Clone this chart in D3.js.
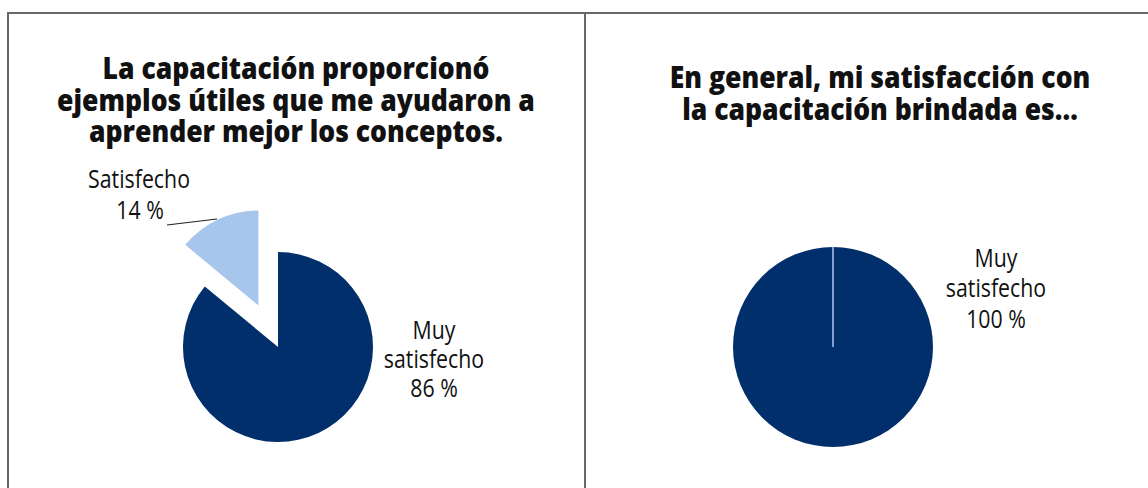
<!DOCTYPE html>
<html>
<head>
<meta charset="utf-8">
<script src="https://cdn.jsdelivr.net/npm/d3@7"></script>
<style>
  body { margin: 0; background: #fff; }
  svg text { font-family: "Open Sans", "Noto Sans", sans-serif; fill: #111; }
</style>
</head>
<body>
<div id="chart"></div>
<script>
// data
const leftTitle = ['La capacitación proporcionó', 'ejemplos útiles que me ayudaron a', 'aprender mejor los conceptos.'];
const leftCategories = ['Muy satisfecho', 'Satisfecho'];
const leftValues = [86, 14];

const rightTitle = ['En general, mi satisfacción con', 'la capacitación brindada es...'];
const rightCategories = ['Muy satisfecho'];
const rightValues = [100];

const W = 1148, H = 488;
const DARK = '#002f6b', LIGHT = '#a7c6ec';
const colors = { 'Muy satisfecho': DARK, 'Satisfecho': LIGHT };

const svg = d3.select('#chart').append('svg')
  .attr('width', W).attr('height', H);

// panel frame
const frame = svg.append('g').attr('stroke', '#6b6764').attr('stroke-width', 2);
frame.append('line').attr('x1', 7).attr('x2', W).attr('y1', 13).attr('y2', 13);
frame.append('line').attr('x1', 8).attr('x2', 8).attr('y1', 12).attr('y2', H);
frame.append('line').attr('x1', 585).attr('x2', 585).attr('y1', 12).attr('y2', H);

// squeezed text, like the original
function label(g, x, y, str, opts = {}) {
  const sx = opts.sx || 0.82;
  g.append('text')
    .attr('transform', `translate(${x},${y}) scale(${sx},1)`)
    .attr('text-anchor', 'middle')
    .attr('font-size', opts.size || 26)
    .attr('font-weight', opts.weight || 400)
    .text(str);
}

function title(lines, cx, y0) {
  const g = svg.append('g');
  lines.forEach((t, i) => label(g, cx, y0 + i * 31.5, t, { size: 30.5, weight: 800, sx: 0.87 }));
}

const pie = d3.pie().sort(null).value(d => d.value);

function drawPie(cats, vals, cx, cy, r, explode) {
  const data = cats.map((c, i) => ({ cat: c, value: vals[i] }));
  const arcs = pie(data);
  const arc = d3.arc().innerRadius(0).outerRadius(r);
  const g = svg.append('g').attr('transform', `translate(${cx},${cy})`);
  g.selectAll('path').data(arcs).join('path')
    .attr('d', arc)
    .attr('fill', d => colors[d.data.cat])
    .attr('transform', d => {
      const off = explode[d.data.cat] || 0;
      const [dx, dy] = d3.pointRadial((d.startAngle + d.endAngle) / 2, off);
      return `translate(${dx},${dy})`;
    });
  return { g, arcs, arc };
}

// left chart
title(leftTitle, 296, 79);
const left = drawPie(leftCategories, leftValues, 278, 347, 95, { 'Satisfecho': 46 });
const lg = svg.append('g');
label(lg, 139, 188, 'Satisfecho');
label(lg, 140, 219, leftValues[1] + ' %');
lg.append('line').attr('x1', 167).attr('y1', 225).attr('x2', 217).attr('y2', 219)
  .attr('stroke', '#222').attr('stroke-width', 1.2);
label(lg, 434, 339, 'Muy');
label(lg, 434, 368, 'satisfecho');
label(lg, 434, 397, leftValues[0] + ' %');

// right chart
title(rightTitle, 880, 88);
const right = drawPie(rightCategories, rightValues, 833, 347, 100, {});
// slice border from the centre to 12 o'clock
right.g.selectAll('line.sep').data(right.arcs).join('line')
  .attr('class', 'sep')
  .attr('x1', 0).attr('y1', 0)
  .attr('x2', d => d3.pointRadial(d.startAngle, 100)[0])
  .attr('y2', d => d3.pointRadial(d.startAngle, 100)[1])
  .attr('stroke', '#7f9fd3').attr('stroke-width', 2);
const rg = svg.append('g');
label(rg, 996, 267, 'Muy');
label(rg, 996, 297, 'satisfecho');
label(rg, 996, 328, rightValues[0] + ' %');
</script>
</body>
</html>
